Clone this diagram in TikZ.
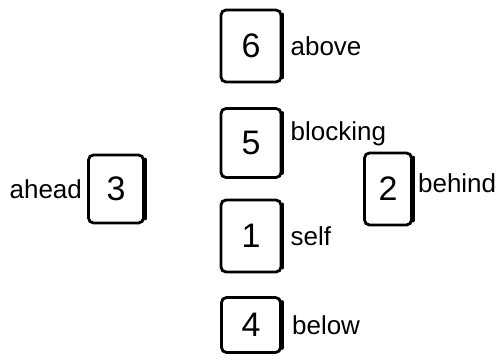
\documentclass[tikz,border=0pt]{standalone}
\usepackage{fontspec}
\setmainfont{Liberation Sans}
\usetikzlibrary{positioning}

\tikzset{
  card/.style={draw, line width=2.8pt, rounded corners=5pt, inner sep=0pt,
    font=\fontsize{34}{34}\selectfont},
  tag/.style={inner sep=0pt, font=\fontsize{26}{26}\selectfont},
}

\begin{document}
\begin{tikzpicture}[x=1pt,y=-1pt]
  % Page frame, same size as the reference (y runs downwards).
  \useasboundingbox (0,0) rectangle (501,364);
  % Column of cards in the middle.
  \node[card, minimum width=60pt, minimum height=72pt] (c6) at (251,46) {6};
  \node[card, minimum width=60pt, minimum height=69pt] (c5) at (251,143) {5};
  \node[card, minimum width=60pt, minimum height=72pt] (c1) at (251,236) {1};
  \node[card, minimum width=59pt, minimum height=55pt] (c4) at (251,325) {4};
  % Cards to the left and right.
  \node[card, minimum width=55pt, minimum height=68pt] (c3) at (116,189) {3};
  \node[card, minimum width=47pt, minimum height=72pt] (c2) at (388,189) {2};
  % Heavier right edge, as drawn by hand.
  \foreach \c in {c6,c5,c1,c4,c3,c2}
    \draw[line width=4pt, line cap=round]
      ([yshift=-6pt]\c.north east) -- ([yshift=6pt]\c.south east);
  % Words beside the cards.
  \node[tag, right=8pt of c6] (l6) {above};
  \node[tag, right=8pt of c5, yshift=9pt] (l5) {blocking};
  \node[tag, right=8pt of c1] (l1) {self};
  \node[tag, right=10pt of c4] (l4) {below};
  \node[tag, left=5pt of c3] (l3) {ahead};
  \node[tag, right=5pt of c2, yshift=6pt] (l2) {behind};
\end{tikzpicture}
\end{document}
